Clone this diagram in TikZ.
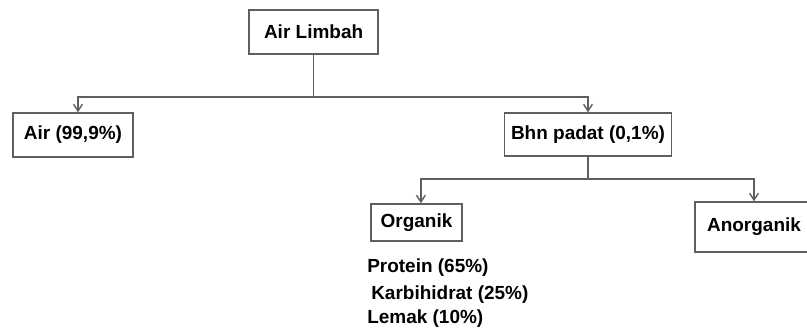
\documentclass[tikz,border=0pt]{standalone}
\usepackage{fontspec}
\setmainfont{Liberation Sans}
\usepackage{xcolor}
\usetikzlibrary{arrows.meta}
\definecolor{linegray}{RGB}{95,95,95}

\begin{document}
\begin{tikzpicture}[
  box/.style={draw=linegray, line width=1pt, fill=white, inner sep=0pt,
    font=\fontsize{13.5}{16}\selectfont\bfseries},
  link/.style={draw=linegray, line width=1pt},
  >={Straight Barb[length=1.7mm,width=2.2mm]},
  item/.style={anchor=west, inner sep=0pt, font=\fontsize{13.5}{16}\selectfont\bfseries}
]
\useasboundingbox (0,0) rectangle (20.175,8.325);

% Draw the boxes
  \node[box, minimum width=3.225cm, minimum height=1.1cm] (limbah) at (7.84,7.525) {Air Limbah};
  \node[box, minimum width=3.0cm, minimum height=1.1cm] (air) at (1.825,4.95) {Air (99,9\%)};
  \node[box, minimum width=4.175cm, minimum height=1.075cm] (padat) at (14.7,4.9625) {Bhn padat (0,1\%)};
  \node[box, minimum width=2.275cm, minimum height=0.925cm] (organik) at (10.4125,2.7625) {Organik};
  \node[box, minimum width=2.95cm, minimum height=1.25cm] (anorganik) at (18.85,2.65) {Anorganik};

% Draw the lines
  \coordinate (split1) at (limbah.south |- 0,5.9);
  \draw[link] (limbah.south) -- (split1);
  \draw[link,->] (split1) -| ([xshift=1.25mm]air.north);
  \draw[link,->] (split1) -| (padat.north);

  \coordinate (split2) at (padat.south |- 0,3.85);
  \draw[link] (padat.south) -- (split2);
  \draw[link,->] (split2) -| ([xshift=1.1mm]organik.north);
  \draw[link,->] (split2) -| (anorganik.north);

% Contents of organik
  \node[item] (protein) at (9.175,1.625) {Protein (65\%)};
  \node[item] (karbo) at (9.275,0.95) {Karbihidrat (25\%)};
  \node[item] (lemak) at (9.175,0.35) {Lemak (10\%)};
\end{tikzpicture}
\end{document}
